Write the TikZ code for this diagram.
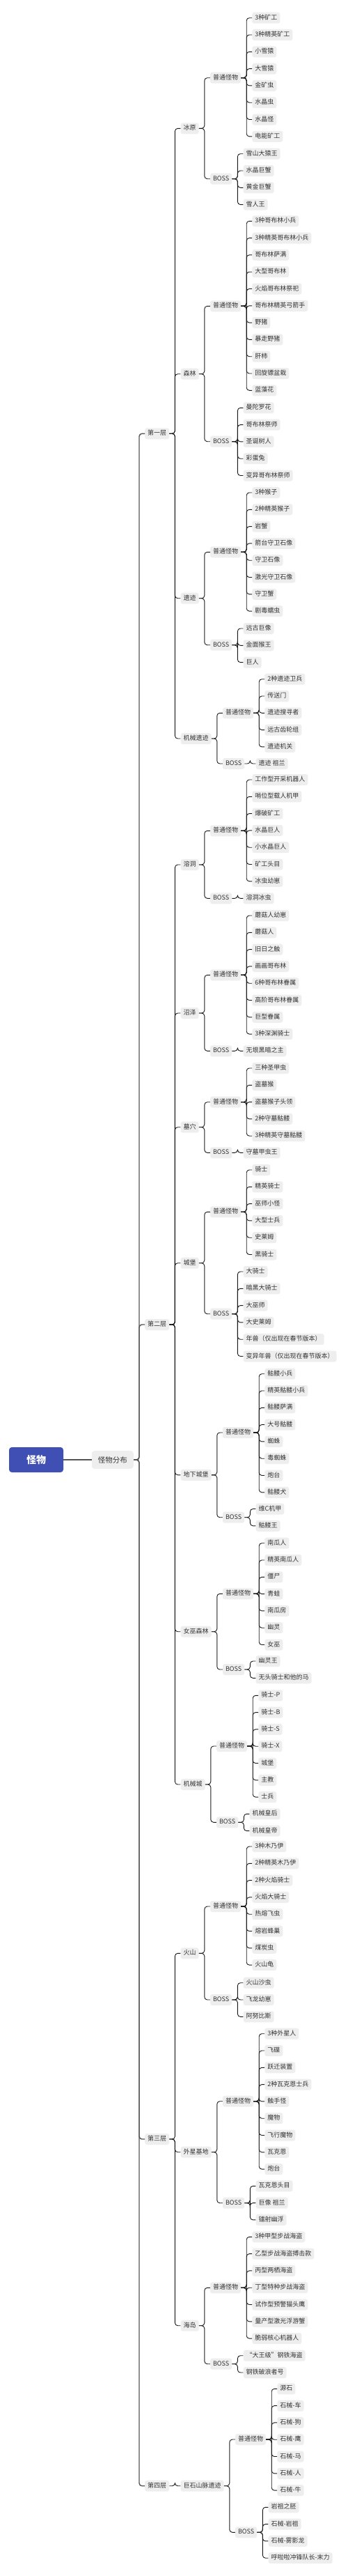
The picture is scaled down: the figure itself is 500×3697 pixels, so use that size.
\documentclass[tikz,border=0pt]{standalone}
\usepackage{fontspec}
\setmainfont{Noto Sans CJK SC}
\usetikzlibrary{calc}
\definecolor{boxgray}{HTML}{EEEEEE}
\definecolor{txtgray}{HTML}{333333}
\definecolor{linegray}{HTML}{555555}
\definecolor{rootblue}{HTML}{3F4FB4}
\tikzset{
  box/.style={fill=boxgray, rounded corners=3pt, inner xsep=4pt, inner ysep=3.5pt,
    text height=7pt, text depth=2pt, font=\fontsize{9}{11}\selectfont, text=txtgray},
  distbox/.style={fill=boxgray, rounded corners=4pt, inner xsep=9pt, inner ysep=8pt,
    font=\fontsize{10.5}{12}\selectfont, text=txtgray},
  rootbox/.style={fill=rootblue, rounded corners=4pt, minimum width=78pt, minimum height=36pt,
    font=\fontsize{14}{16}\selectfont\bfseries, text=white},
  conn/.style={draw=black!90, line width=0.9pt, rounded corners=4pt},
  rootconn/.style={draw=linegray, line width=1.4pt, rounded corners=4pt},
}
% one child box right of its parent, y given
\newcommand\branch[4]{%
  \node[box, anchor=west, xshift=16pt] (#2) at (#1.east |- 0,#3) {#4};
  \draw[conn] (#1.east) -- ++(8,0) |- (#2.west);}
% a column of leaves, 24.3 apart
\newcommand\monsters[3]{%
  \foreach \t [count=\i] in {#3}{
    \node[box, anchor=west, xshift=16pt] (#1-\i) at (#1.east |- 0,{#2+24.3*(\i-1)}) {\t};
    \draw[conn] (#1.east) -- ++(8,0) |- (#1-\i.west);
  }}

\begin{document}
\begin{tikzpicture}[x=1pt,y=-1pt]
		%%%%% START %%%%%
		\useasboundingbox (0,0) rectangle (500,3697);
		
		\node[rootbox] (guaiwu) at (52,2095) {怪物};
		\node[distbox, anchor=east] (fenbu) at (192,2095) {怪物分布};
		\draw[rootconn] (guaiwu.east) -- (fenbu.west);
		
		\foreach \n/\t/\y in {floor1/第一层/622.3, floor2/第二层/1901, floor3/第三层/3070, floor4/第四层/3567.7}{
			\node[box, anchor=west, xshift=16pt] (\n) at (fenbu.east |- 0,\y) {\t};
			\draw[rootconn] (fenbu.east) -- ++(8,0) |- (\n.west);
		}
		
		% first floor
		\branch{floor1}{bingyuan}{184.3}{冰原}
		\branch{bingyuan}{bingyuan-n}{111.7}{普通怪物}
		\monsters{bingyuan-n}{25.7}{3种矿工,3种精英矿工,小雪猿,大雪猿,金矿虫,水晶虫,水晶怪,电能矿工}
		\branch{bingyuan}{bingyuan-b}{256.7}{BOSS}
		\monsters{bingyuan-b}{220.7}{雪山大猿王,水晶巨蟹,黄金巨蟹,雪人王}
		
		\branch{floor1}{senlin}{536.7}{森林}
		\branch{senlin}{senlin-n}{439.3}{普通怪物}
		\monsters{senlin-n}{317.3}{3种哥布林小兵,3种精英哥布林小兵,哥布林萨满,大型哥布林,火焰哥布林祭祀,哥布林精英弓箭手,野猪,暴走野猪,肝柿,回旋镖盆栽,蓝藻花}
		\branch{senlin}{senlin-b}{633.7}{BOSS}
		\monsters{senlin-b}{585.3}{曼陀罗花,哥布林祭师,圣诞树人,彩蛋兔,变异哥布林祭师}
		
		\branch{floor1}{yiji}{858.7}{遗迹}
		\branch{yiji}{yiji-n}{792.3}{普通怪物}
		\monsters{yiji-n}{707}{3种猴子,2种精英猴子,岩蟹,箭台守卫石像,守卫石像,激光守卫石像,守卫蟹,剧毒蠕虫}
		\branch{yiji}{yiji-b}{925.7}{BOSS}
		\monsters{yiji-b}{902}{远古巨像,金面猴王,巨人}
		
		\branch{floor1}{jxyiji}{1060}{机械遗迹}
		\branch{jxyiji}{jxyiji-n}{1023.3}{普通怪物}
		\monsters{jxyiji-n}{974.7}{2种遗迹卫兵,传送门,遗迹搜寻者,远古齿轮组,遗迹机关}
		\branch{jxyiji}{jxyiji-b}{1096}{BOSS}
		\monsters{jxyiji-b}{1096}{遗迹 祖兰}
		
		% second floor
		\branch{floor2}{rongdong}{1241}{溶洞}
		\branch{rongdong}{rongdong-n}{1192.3}{普通怪物}
		\monsters{rongdong-n}{1119}{工作型开采机器人,哨位型载人机甲,爆破矿工,水晶巨人,小水晶巨人,矿工头目,冰虫幼崽}
		\branch{rongdong}{rongdong-b}{1289.3}{BOSS}
		\monsters{rongdong-b}{1289.3}{溶洞冰虫}
		
		\branch{floor2}{zhaoze}{1454}{沼泽}
		\branch{zhaoze}{zhaoze-n}{1399.3}{普通怪物}
		\monsters{zhaoze-n}{1314}{蘑菇人幼崽,蘑菇人,旧日之触,画画哥布林,6种哥布林眷属,高阶哥布林眷属,巨型眷属,3种深渊骑士}
		\branch{zhaoze}{zhaoze-b}{1508.3}{BOSS}
		\monsters{zhaoze-b}{1508.3}{无垠黑暗之主}
		
		\branch{floor2}{muxue}{1617.7}{墓穴}
		\branch{muxue}{muxue-n}{1581.7}{普通怪物}
		\monsters{muxue-n}{1533}{三种圣甲虫,盗墓猴,盗墓猴子头领,2种守墓骷髅,3种精英守墓骷髅}
		\branch{muxue}{muxue-b}{1654.3}{BOSS}
		\monsters{muxue-b}{1654.3}{守墓甲虫王}
		
		\branch{floor2}{chengbao}{1812.7}{城堡}
		\branch{chengbao}{chengbao-n}{1739.3}{普通怪物}
		\monsters{chengbao-n}{1679}{骑士,精英骑士,巫师小怪,大型士兵,史莱姆,黑骑士}
		\branch{chengbao}{chengbao-b}{1885.7}{BOSS}
		\monsters{chengbao-b}{1825}{大骑士,暗黑大骑士,大巫师,大史莱姆,年兽（仅出现在春节版本）,变异年兽（仅出现在春节版本）}
		
		\branch{floor2}{dixia}{2116.8}{地下城堡}
		\branch{dixia}{dixia-n}{2056}{普通怪物}
		\monsters{dixia-n}{1971.7}{骷髅小兵,精英骷髅小兵,骷髅萨满,大号骷髅,蜘蛛,毒蜘蛛,炮台,骷髅犬}
		\branch{dixia}{dixia-b}{2177.7}{BOSS}
		\monsters{dixia-b}{2165.5}{维C机甲,骷髅王}
		
		\branch{floor2}{nvwu}{2341.7}{女巫森林}
		\branch{nvwu}{nvwu-n}{2287.3}{普通怪物}
		\monsters{nvwu-n}{2214.7}{南瓜人,精英南瓜人,僵尸,青蛙,南瓜房,幽灵,女巫}
		\branch{nvwu}{nvwu-b}{2396}{BOSS}
		\monsters{nvwu-b}{2384}{幽灵王,无头骑士和他的马}
		
		\branch{floor2}{jxcheng}{2561}{机械城}
		\branch{jxcheng}{jxcheng-n}{2506}{普通怪物}
		\monsters{jxcheng-n}{2433.3}{骑士-P,骑士-B,骑士-S,骑士-X,城堡,主教,士兵}
		\branch{jxcheng}{jxcheng-b}{2615.3}{BOSS}
		\monsters{jxcheng-b}{2603.3}{机械皇后,机械皇帝}
		
		% third floor
		\branch{floor3}{huoshan}{2803.3}{火山}
		\branch{huoshan}{huoshan-n}{2736}{普通怪物}
		\monsters{huoshan-n}{2650}{3种木乃伊,2种精英木乃伊,2种火焰骑士,火焰大骑士,热熔飞虫,熔岩蜂巢,煤炭虫,火山龟}
		\branch{huoshan}{huoshan-b}{2870}{BOSS}
		\monsters{huoshan-b}{2845.7}{火山沙虫,飞龙幼崽,阿努比斯}
		
		\branch{floor3}{waixing}{3088.7}{外星基地}
		\branch{waixing}{waixing-n}{3015.7}{普通怪物}
		\monsters{waixing-n}{2918.7}{3种外星人,飞碟,跃迁装置,2种瓦克恩士兵,触手怪,魔物,飞行魔物,瓦克恩,炮台}
		\branch{waixing}{waixing-b}{3161.7}{BOSS}
		\monsters{waixing-b}{3137.3}{瓦克恩头目,巨像 祖兰,镭射幽浮}
		
		\branch{floor3}{haidao}{3337.7}{海岛}
		\branch{haidao}{haidao-n}{3283.3}{普通怪物}
		\monsters{haidao-n}{3210.3}{3种甲型步战海盗,乙型步战海盗搏击款,丙型两栖海盗,丁型特种步战海盗,试作型预警猫头鹰,量产型激光浮游蟹,脆弱核心机器人}
		\branch{haidao}{haidao-b}{3392.7}{BOSS}
		\monsters{haidao-b}{3380.7}{“大王级”钢铁海盗,钢铁破浪者号}
		
		% fourth floor
		\branch{floor4}{jushi}{3567.7}{巨石山脉遗迹}
		\branch{jushi}{jushi-n}{3501}{普通怪物}
		\monsters{jushi-n}{3428.3}{源石,石械-车,石械-狗,石械-鹰,石械-马,石械-人,石械-牛}
		\branch{jushi}{jushi-b}{3634.3}{BOSS}
		\monsters{jushi-b}{3598.3}{岩祖之胚,石械-岩祖,石械-雾影龙,呼啦啦冲锋队长-末力}
		
		%%%%% END %%%%%
\end{tikzpicture}
\end{document}
